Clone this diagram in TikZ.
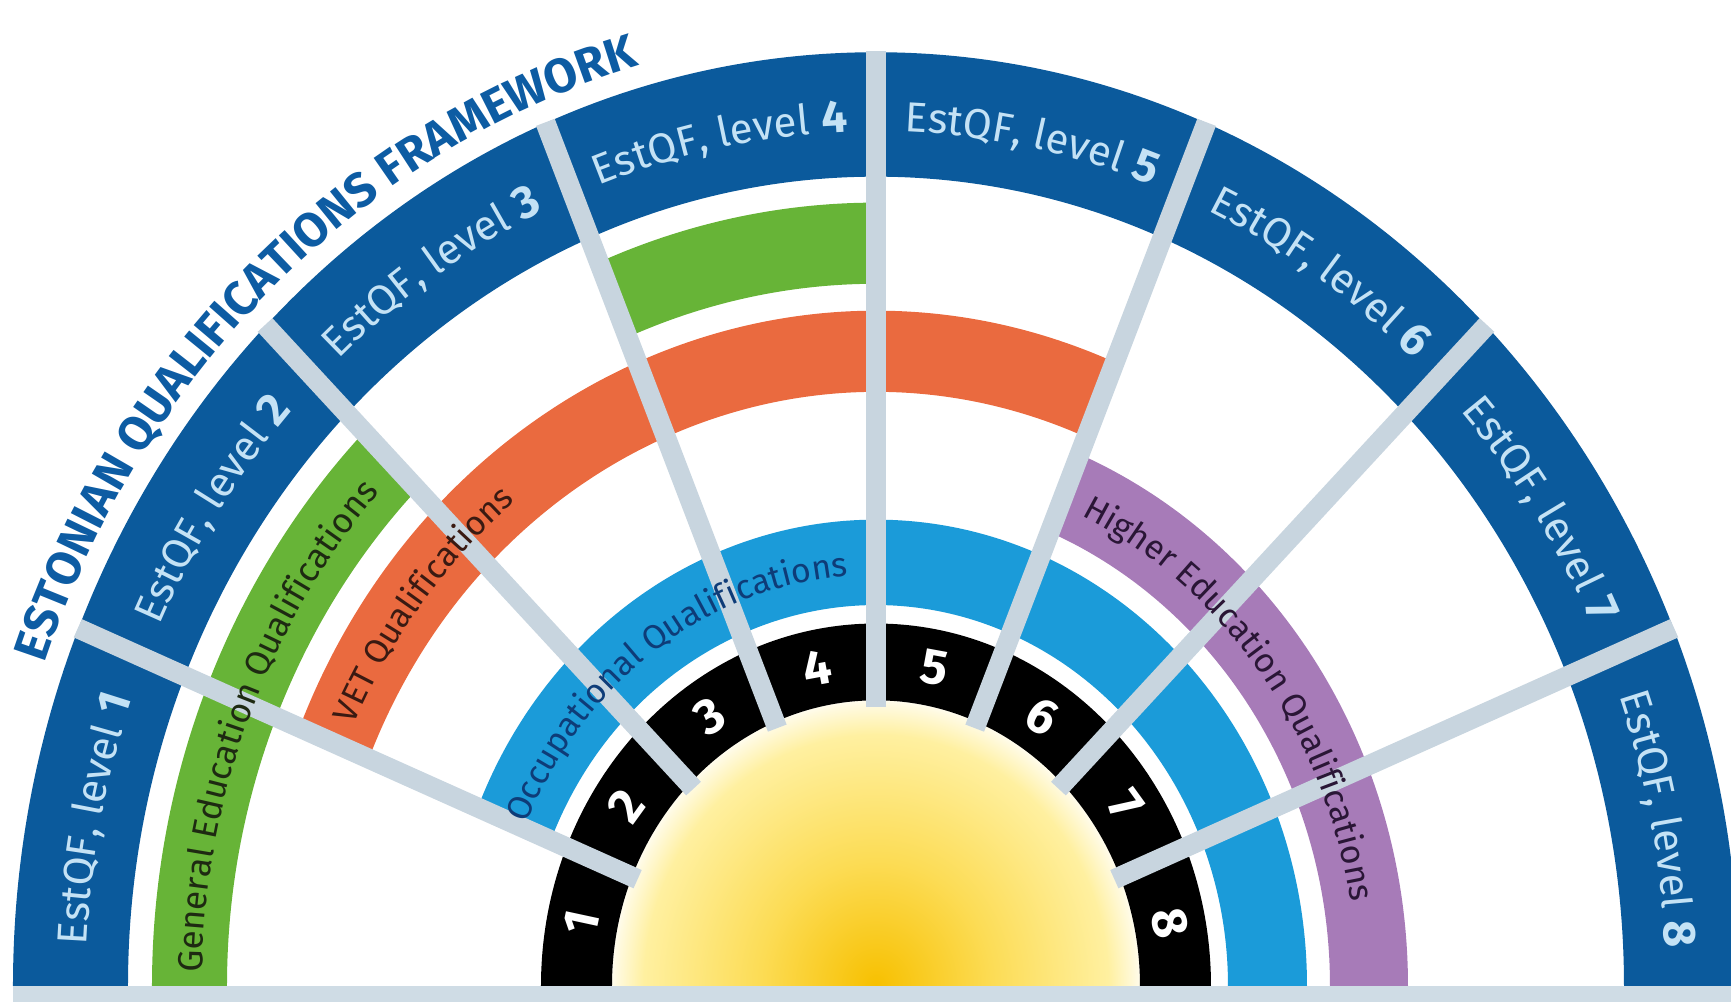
\documentclass[tikz,border=0pt]{standalone}
\usepackage{fontspec}
\setmainfont{Fira Sans}
\usetikzlibrary{decorations.text}
\definecolor{ringblue}{HTML}{0B5A9C}
\definecolor{lblue}{HTML}{C4E2F5}
\definecolor{gengreen}{HTML}{67B437}
\definecolor{vetorange}{HTML}{EA6A3F}
\definecolor{occblue}{HTML}{1B9BD9}
\definecolor{hepurple}{HTML}{A77BB8}
\definecolor{divgray}{HTML}{C8D5DF}
\definecolor{stripgray}{HTML}{CFDCE5}
\definecolor{sunC}{HTML}{F7C000}
\definecolor{sunM}{HTML}{FCDC55}
\definecolor{sunE}{HTML}{FFF0A0}
\definecolor{sunG}{HTML}{FFFAE0}
\definecolor{titleblue}{HTML}{0D5CA3}
\definecolor{gentext}{HTML}{1E2A12}
\definecolor{vettext}{HTML}{3A1A12}
\definecolor{occtext}{HTML}{0E3C78}
\definecolor{hetext}{HTML}{2A1636}
\pgfdeclareradialshading{sunshade}{\pgfpoint{0bp}{0bp}}{color(0bp)=(sunC); color(11bp)=(sunM); color(22bp)=(sunE); color(24.6bp)=(sunG); color(25.6bp)=(white); color(50bp)=(white)}
\newcommand{\ringpiece}[5]{\fill[#1] (#2:#4) arc[start angle=#2, end angle=#3, radius=#4] -- (#3:#5) arc[start angle=#3, end angle=#2, radius=#5] -- cycle;}
\newcommand{\arctext}[5]{\path[decorate, decoration={text along path, text align=center, text={#5}}] ({#1+#2}:#3 and #4) arc[start angle={#1+#2}, end angle={#1-#2}, x radius=#3, y radius=#4];}
\newcommand{\levellabel}[2]{\arctext{#1}{16}{790}{854.8}{|\fontsize{21}{25}\selectfont\color{lblue}|EstQF, level |\bfseries\fontsize{23}{25}\selectfont\color{lblue}|#2}}
\tikzset{
  divider/.style={draw=divgray, line width=10pt},
  digit/.style={text=white, font=\bfseries\fontsize{25}{25}\selectfont, inner sep=0pt},
}
\begin{document}
\begin{tikzpicture}[x=0.5pt, y=0.5pt]
\useasboundingbox (-876,-16) rectangle (855,986);
\fill[stripgray] (-863,0) rectangle (855,-16);
\begin{scope}[yscale=1.082]
  \begin{scope}
    \clip (-270,0) rectangle (270,280);
    \shade[shading=sunshade] (0,0) circle[radius=264];
  \end{scope}
  \ringpiece{black}{180}{0}{264}{335}
  \ringpiece{occblue}{157.5}{0}{352}{431}
  \ringpiece{hepurple}{67.5}{0}{454}{532}
  \ringpiece{vetorange}{157.5}{67.5}{549}{624}
  \ringpiece{gengreen}{180}{135}{649}{724}
  \ringpiece{gengreen}{112.5}{90}{649}{724}
  \ringpiece{ringblue}{180}{0}{748}{863}
  \foreach \a in {22.5,45,67.5,90,112.5,135,157.5}
    \draw[divider] (\a:258) -- (\a:864);
\end{scope}
% digits
\foreach \k/\a/\r in {1/168.75/77.85, 2/146.25/54.13, 3/123.75/31.70, 4/101.25/10.42, 5/78.75/-10.42, 6/56.25/-31.70, 7/33.75/-54.13, 8/11.25/-77.85}
  \node[digit, rotate=\r] (n\k) at (\a:300 and 324.6) {\k};
% level labels
\levellabel{168.75}{1}
\levellabel{146.25}{2}
\levellabel{123.75}{3}
\levellabel{101.25}{4}
\levellabel{78.75}{5}
\levellabel{56.25}{6}
\levellabel{33.75}{7}
\levellabel{11.25}{8}
% title
\arctext{132.4}{42}{883}{955}{|\fontsize{24}{28}\selectfont\bfseries\color{titleblue}|ESTONIAN QUALIFICATIONS FRAMEWORK}
% band labels
\arctext{158.0}{30}{674}{729.3}{|\fontsize{17.5}{20}\selectfont\color{gentext}|General Education Qualifications}
\arctext{141.75}{25}{575}{622.2}{|\fontsize{17}{20}\selectfont\color{vettext}|VET Qualifications}
\arctext{125.15}{40}{380}{411.2}{|\fontsize{17}{20}\selectfont\color{occtext}|Occupational Qualifications}
\arctext{37.45}{40}{481}{520.4}{|\fontsize{17}{20}\selectfont\color{hetext}|Higher Education Qualifications}
\end{tikzpicture}
\end{document}
